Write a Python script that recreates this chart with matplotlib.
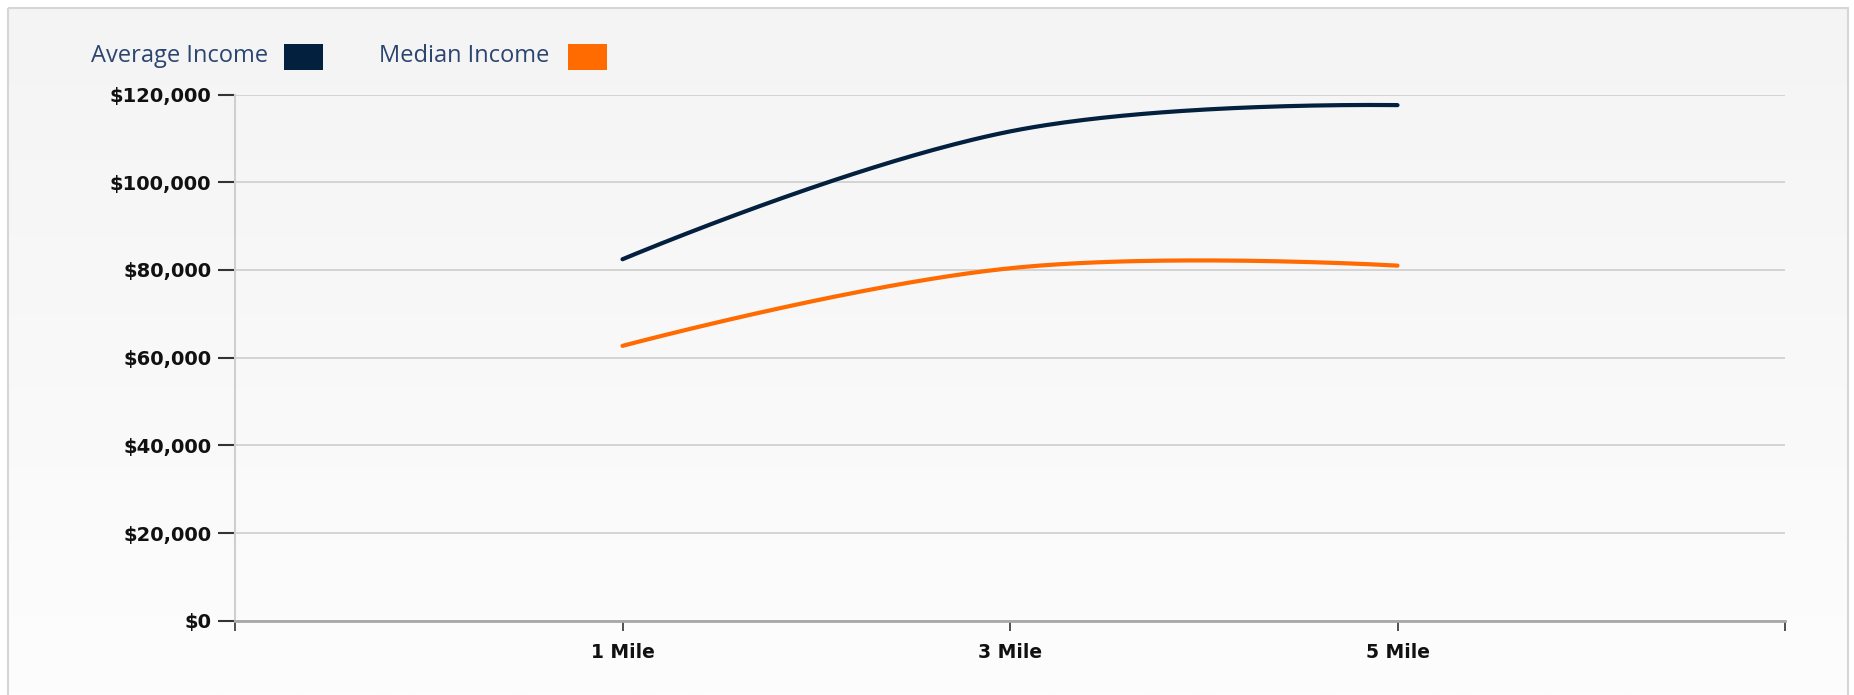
import numpy as np
import matplotlib
matplotlib.use("Agg")
import matplotlib.pyplot as plt
from matplotlib.patches import Rectangle

# ---- data ----
categories = ["1 Mile", "3 Mile", "5 Mile"]
average_income = [82450, 111600, 117600]
median_income = [62700, 80400, 81000]
y_ticks = [0, 20000, 40000, 60000, 80000, 100000, 120000]
y_tick_labels = ["$0", "$20,000", "$40,000", "$60,000", "$80,000", "$100,000", "$120,000"]
series_names = ["Average Income", "Median Income"]
series_colors = ["#03203f", "#ff6b00"]

W, H = 1854, 695
AX_L, AX_R, AX_T, AX_B = 235, 1785, 94.6, 620.8


def smooth_curve(xs, ys, sx, sy, tension=0.4, n=80):
    """Chart.js style bezier smoothing computed in pixel space (sx, sy = px per unit)."""
    P = np.column_stack([np.asarray(xs, float) * sx, np.asarray(ys, float) * sy])
    k = len(P)
    cprev = P.copy()
    cnext = P.copy()
    for i in range(1, k - 1):
        d01 = np.hypot(*(P[i] - P[i - 1]))
        d12 = np.hypot(*(P[i + 1] - P[i]))
        s01 = d01 / (d01 + d12)
        s12 = d12 / (d01 + d12)
        v = P[i + 1] - P[i - 1]
        cprev[i] = P[i] - tension * s01 * v
        cnext[i] = P[i] + tension * s12 * v
    t = np.linspace(0, 1, n)[:, None]
    segs = []
    for i in range(k - 1):
        b = ((1 - t) ** 3) * P[i] + 3 * ((1 - t) ** 2) * t * cnext[i] \
            + 3 * (1 - t) * t ** 2 * cprev[i + 1] + t ** 3 * P[i + 1]
        segs.append(b)
    out = np.vstack(segs)
    return out[:, 0] / sx, out[:, 1] / sy


fig = plt.figure(figsize=(W / 100, H / 100), dpi=100)
fig.patch.set_facecolor("white")

# background panel with gradient
bg = fig.add_axes([0, 0, 1, 1], zorder=0)
bg.set_xlim(0, W)
bg.set_ylim(H, 0)
bg.axis("off")
grad = np.linspace(0, 1, 256).reshape(-1, 1)
cmap = matplotlib.colors.LinearSegmentedColormap.from_list("g", ["#f4f4f4", "#fdfdfd"])
bg.imshow(grad, cmap=cmap, extent=[8, 1848, H, 8], aspect="auto", zorder=0)
bg.add_patch(Rectangle((8, 8), 1840, H, fill=False, edgecolor="#d6d6d6", linewidth=1.5, zorder=1))

# legend
legend_font = dict(fontsize=17, color="#2b4470", family="Open Sans", va="center", ha="left")
bg.text(91, 56, series_names[0], **legend_font)
bg.add_patch(Rectangle((284, 44), 39, 26, facecolor=series_colors[0], edgecolor="none", zorder=2))
bg.text(379, 56, series_names[1], **legend_font)
bg.add_patch(Rectangle((568, 44), 39, 26, facecolor=series_colors[1], edgecolor="none", zorder=2))

ax = fig.add_axes([AX_L / W, 1 - AX_B / H, (AX_R - AX_L) / W, (AX_B - AX_T) / H], zorder=2)
ax.patch.set_alpha(0)

n_cat = len(categories)
xlim = (0, n_cat + 1)
ylim = (0, 120000)
px_per_x = (AX_R - AX_L) / (xlim[1] - xlim[0])
px_per_y = (AX_B - AX_T) / (ylim[1] - ylim[0])

xpos = np.arange(1, n_cat + 1)
for vals, col in zip([average_income, median_income], series_colors):
    cx, cy = smooth_curve(xpos, vals, px_per_x, px_per_y)
    ax.plot(cx, cy, color=col, linewidth=3, solid_capstyle="round", zorder=3)

ax.set_xlim(*xlim)
ax.set_ylim(*ylim)
ax.set_yticks(y_ticks)
ax.set_yticklabels(y_tick_labels)
ax.set_xticks(np.arange(0, n_cat + 2))
ax.set_xticklabels([""] + categories + [""])

ax.grid(axis="y", color="#d4d4d4", linewidth=1.4)
ax.grid(axis="x", visible=False)
ax.set_axisbelow(True)

for s in ["top", "right"]:
    ax.spines[s].set_visible(False)
ax.spines["left"].set_color("#cfcfcf")
ax.spines["left"].set_linewidth(1.5)
ax.spines["bottom"].set_color("#a8a8a8")
ax.spines["bottom"].set_linewidth(2)

ax.tick_params(axis="y", length=12, width=1.5, color="#333333", pad=5,
               labelsize=14, labelcolor="#111111")
ax.tick_params(axis="x", length=7, width=1.2, color="#333333", pad=9,
               labelsize=13.5, labelcolor="#111111")
for lab in ax.get_yticklabels() + ax.get_xticklabels():
    lab.set_fontweight("bold")
    lab.set_family("DejaVu Sans")

fig.savefig("out.png", dpi=100)
